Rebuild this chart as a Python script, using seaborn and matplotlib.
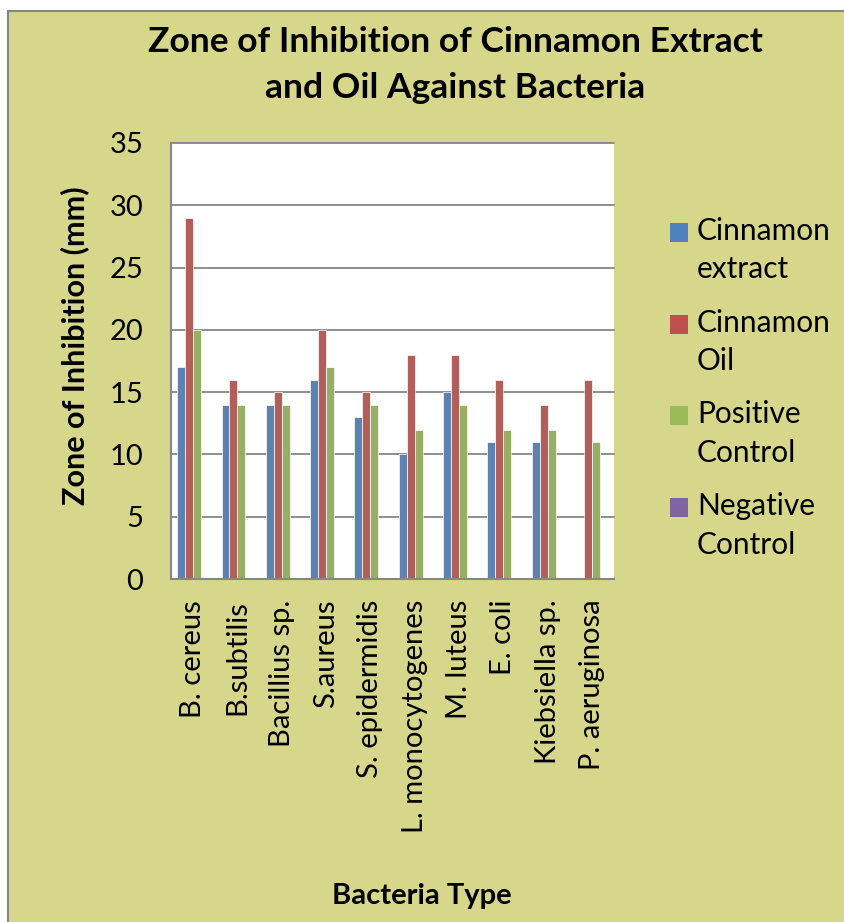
import matplotlib
matplotlib.use("Agg")
import matplotlib.pyplot as plt
import seaborn as sns
import pandas as pd
from matplotlib.patches import Rectangle, Patch

bacteria = ["B. cereus", "B.subtilis", "Bacillius sp.", "S.aureus", "S. epidermidis",
            "L. monocytogenes", "M. luteus", "E. coli", "Kiebsiella sp.", "P. aeruginosa"]
cinnamon_extract = [17, 14, 14, 16, 13, 10, 15, 11, 11, 0]
cinnamon_oil = [29, 16, 15, 20, 15, 18, 18, 16, 14, 16]
positive_control = [20, 14, 14, 17, 14, 12, 14, 12, 12, 11]
negative_control = [0, 0, 0, 0, 0, 0, 0, 0, 0, 0]
series_names = ["Cinnamon extract", "Cinnamon Oil", "Positive Control", "Negative Control"]
legend_labels = ["Cinnamon\nextract", "Cinnamon\nOil", "Positive\nControl", "Negative\nControl"]
y_ticks = [0, 5, 10, 15, 20, 25, 30, 35]
title_text = "Zone of Inhibition of Cinnamon Extract\nand Oil Against Bacteria"
x_label = "Bacteria Type"
y_label = "Zone of Inhibition (mm)"

colors = ["#4F81BD", "#C0504D", "#9BBB59", "#8064A2"]
bg = "#D6D78B"
grey = "#868686"

sns.set_style("white")
plt.rcParams["font.family"] = ["Lato", "DejaVu Sans"]
plt.rcParams["text.color"] = "black"
plt.rcParams["xtick.labelcolor"] = "black"
plt.rcParams["ytick.labelcolor"] = "black"

rows = []
for name, vals in zip(series_names, [cinnamon_extract, cinnamon_oil, positive_control, negative_control]):
    for b, v in zip(bacteria, vals):
        rows.append({"Bacteria": b, "Zone": v, "Series": name})
df = pd.DataFrame(rows)

W, H = 844, 922
fig = plt.figure(figsize=(W / 100, H / 100), dpi=100)
fig.patch.set_facecolor("white")
fig.patches.append(Rectangle((8 / W, -0.1), 1.2, 1.1 - 11 / H, transform=fig.transFigure,
                             facecolor=bg, edgecolor=grey, linewidth=1.5, zorder=-10))

ax = fig.add_axes([171 / W, 1 - 579 / H, (614 - 171) / W, (579 - 143) / H])
ax.set_facecolor("white")
sns.barplot(data=df, x="Bacteria", y="Zone", hue="Series", hue_order=series_names,
            order=bacteria, palette=colors, width=0.72, errorbar=None,
            edgecolor="white", linewidth=0.5, ax=ax, legend=False)

ax.set_ylim(0, 35)
ax.set_xlim(-0.5, len(bacteria) - 0.5)
ax.set_yticks(y_ticks)
ax.yaxis.grid(True, color=grey, linewidth=1.3)
ax.set_axisbelow(True)
for gl in ax.get_ygridlines():
    gl.set_clip_on(False)
ax.spines["top"].set_visible(False)
ax.spines["right"].set_visible(False)
for s in ["left", "bottom"]:
    ax.spines[s].set_color(grey)
    ax.spines[s].set_linewidth(1.5)

ax.set_xlabel("")
ax.set_ylabel("")
ax.set_xticks(range(len(bacteria)))
ax.set_xticklabels(bacteria, rotation=90, fontsize=21, va="top", ha="center", color="black")
ax.set_xticks([i - 0.5 for i in range(len(bacteria) + 1)], minor=True)
ax.tick_params(axis="x", which="major", length=0, pad=15)
ax.tick_params(axis="x", which="minor", length=6, width=1.3, color=grey, direction="out")
ax.tick_params(axis="y", length=6, width=1.3, color=grey, direction="out", pad=14,
               labelsize=21, labelcolor="black")

fig.text(455 / W, 1 - 65 / H, title_text, ha="center", va="center", fontsize=25.5,
         fontweight="bold", linespacing=1.56, color="black")
fig.text(422 / W, 1 - 896 / H, x_label, ha="center", va="center", fontsize=21,
         fontweight="bold", color="black")
fig.text(75 / W, 1 - 346 / H, y_label, ha="center", va="center", rotation=90,
         fontsize=22, fontweight="bold", color="black")

handles = [Patch(facecolor=c, edgecolor="none") for c in colors]
leg = fig.legend(handles, legend_labels, loc="upper left",
                 bbox_to_anchor=(670 / W, 1 - 217 / H), frameon=False, fontsize=21.5,
                 handlelength=0.6, handleheight=0.6, handletextpad=0.3, labelspacing=0.85,
                 borderpad=0, borderaxespad=0, labelcolor="black")
for t in leg.get_texts():
    t.set_linespacing(1.45)
for p in leg.get_patches():
    p.set_y(p.get_y() + 13.5)

fig.savefig("out.png", dpi=100, facecolor=fig.get_facecolor())
